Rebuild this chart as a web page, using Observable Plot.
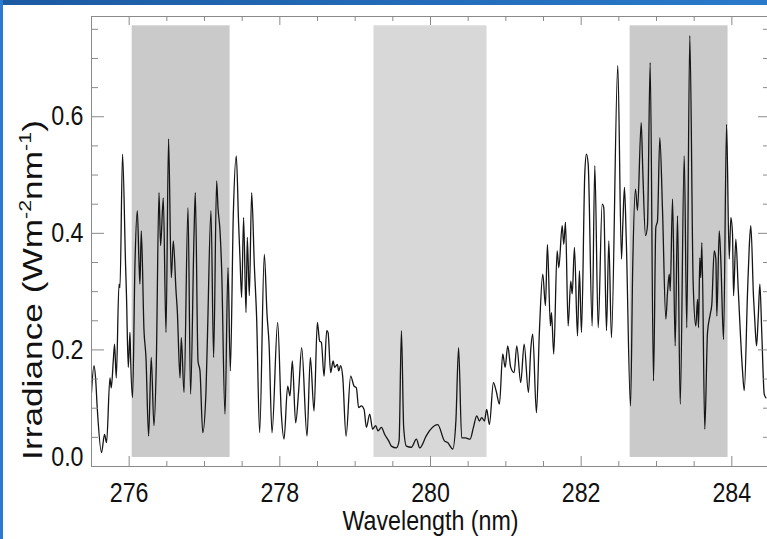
<!DOCTYPE html>
<html>
<head>
<meta charset="utf-8">
<script src="https://cdn.jsdelivr.net/npm/d3@7"></script>
<script src="https://cdn.jsdelivr.net/npm/@observablehq/plot@0.6"></script>
<style>
html, body { margin: 0; padding: 0; background: #fff; width: 767px; height: 539px; overflow: hidden; }
#chart { position: absolute; left: 0; top: 0; }
#topbar { position: absolute; left: 0; top: 0; width: 767px; height: 5px; background: linear-gradient(90deg, #1c5aa2, #2a7acb); }
#leftbar { position: absolute; left: 0; top: 0; width: 3px; height: 539px; background: #2a7bd0; }
</style>
</head>
<body>
<div id="chart"></div>
<div id="topbar"></div>
<div id="leftbar"></div>
<script>
// ---- data ----
const wavelength = [275.5, 275.533, 275.554, 275.576, 275.633, 275.673, 275.700, 275.745, 275.762, 275.789, 275.806, 275.829, 275.865, 275.878, 275.912, 275.952, 275.965, 275.988, 276.011, 276.019, 276.045, 276.077, 276.108, 276.130, 276.143, 276.161, 276.197, 276.223, 276.258, 276.293, 276.329, 276.360, 276.396, 276.417, 276.453, 276.489, 276.523, 276.559, 276.586, 276.622, 276.639, 276.675, 276.692, 276.728, 276.781, 276.815, 276.861, 276.878, 276.914, 276.940, 276.977, 277.020, 277.041, 277.086, 277.121, 277.161, 277.179, 277.206, 277.227, 277.272, 277.312, 277.343, 277.382, 277.422, 277.453, 277.471, 277.493, 277.519, 277.551, 277.568, 277.595, 277.626, 277.661, 277.692, 277.732, 277.794, 277.830, 277.857, 277.896, 277.971, 278.020, 278.056, 278.104, 278.135, 278.166, 278.210, 278.250, 278.290, 278.361, 278.405, 278.454, 278.498, 278.529, 278.551, 278.587, 278.622, 278.640, 278.675, 278.707, 278.728, 278.764, 278.781, 278.807, 278.834, 278.879, 278.940, 278.985, 279.016, 279.046, 279.082, 279.118, 279.149, 279.193, 279.232, 279.272, 279.304, 279.348, 279.392, 279.445, 279.481, 279.547, 279.583, 279.614, 279.644, 279.680, 279.746, 279.813, 279.857, 279.942, 279.985, 280.052, 280.096, 280.185, 280.228, 280.295, 280.337, 280.373, 280.414, 280.463, 280.526, 280.570, 280.614, 280.649, 280.680, 280.716, 280.746, 280.782, 280.835, 280.871, 280.915, 280.959, 280.991, 281.025, 281.065, 281.110, 281.145, 281.198, 281.243, 281.300, 281.331, 281.357, 281.406, 281.446, 281.490, 281.526, 281.552, 281.592, 281.606, 281.636, 281.681, 281.703, 281.748, 281.769, 281.792, 281.827, 281.862, 281.881, 281.911, 281.951, 281.977, 282.004, 282.048, 282.070, 282.093, 282.146, 282.181, 282.226, 282.279, 282.300, 282.336, 282.367, 282.402, 282.486, 282.535, 282.553, 282.575, 282.598, 282.655, 282.685, 282.721, 282.748, 282.797, 282.818, 282.854, 282.880, 282.916, 282.960, 282.991, 283.013, 283.044, 283.080, 283.124, 283.146, 283.169, 283.182, 283.213, 283.248, 283.279, 283.315, 283.368, 283.402, 283.442, 283.487, 283.522, 283.545, 283.558, 283.575, 283.588, 283.602, 283.641, 283.677, 283.713, 283.734, 283.766, 283.788, 283.801, 283.833, 283.854, 283.890, 283.930, 283.965, 283.987, 284.009, 284.023, 284.053, 284.085, 284.142, 284.165, 284.209, 284.231, 284.252, 284.288, 284.305, 284.328, 284.351, 284.372, 284.398, 284.430, 284.452];

const irradiance = [0.127, 0.173, 0.152, 0.101, 0.024, 0.055, 0.041, 0.152, 0.135, 0.181, 0.210, 0.152, 0.313, 0.307, 0.536, 0.347, 0.290, 0.170, 0.230, 0.187, 0.118, 0.347, 0.439, 0.353, 0.313, 0.404, 0.233, 0.187, 0.052, 0.187, 0.070, 0.175, 0.470, 0.379, 0.461, 0.230, 0.562, 0.324, 0.387, 0.301, 0.267, 0.152, 0.221, 0.127, 0.444, 0.124, 0.399, 0.470, 0.181, 0.164, 0.058, 0.130, 0.233, 0.439, 0.187, 0.490, 0.444, 0.404, 0.341, 0.090, 0.341, 0.164, 0.430, 0.533, 0.416, 0.358, 0.290, 0.427, 0.264, 0.393, 0.293, 0.470, 0.347, 0.255, 0.058, 0.364, 0.261, 0.210, 0.058, 0.247, 0.090, 0.047, 0.138, 0.121, 0.181, 0.075, 0.130, 0.204, 0.052, 0.187, 0.095, 0.247, 0.215, 0.213, 0.155, 0.233, 0.230, 0.161, 0.181, 0.170, 0.175, 0.164, 0.173, 0.155, 0.052, 0.155, 0.138, 0.135, 0.101, 0.104, 0.098, 0.067, 0.090, 0.064, 0.070, 0.061, 0.067, 0.055, 0.044, 0.035, 0.032, 0.044, 0.233, 0.067, 0.035, 0.033, 0.047, 0.032, 0.052, 0.061, 0.070, 0.072, 0.044, 0.041, 0.030, 0.078, 0.204, 0.049, 0.049, 0.047, 0.067, 0.087, 0.078, 0.084, 0.078, 0.098, 0.072, 0.144, 0.130, 0.107, 0.193, 0.170, 0.207, 0.170, 0.161, 0.207, 0.144, 0.210, 0.127, 0.201, 0.227, 0.092, 0.233, 0.330, 0.276, 0.381, 0.241, 0.264, 0.193, 0.370, 0.341, 0.413, 0.381, 0.419, 0.241, 0.318, 0.296, 0.376, 0.224, 0.336, 0.230, 0.502, 0.536, 0.519, 0.241, 0.516, 0.238, 0.450, 0.444, 0.233, 0.387, 0.221, 0.688, 0.356, 0.416, 0.479, 0.393, 0.104, 0.347, 0.476, 0.439, 0.590, 0.507, 0.396, 0.413, 0.693, 0.147, 0.410, 0.421, 0.564, 0.439, 0.253, 0.298, 0.330, 0.301, 0.459, 0.207, 0.430, 0.107, 0.533, 0.238, 0.739, 0.313, 0.241, 0.287, 0.238, 0.358, 0.324, 0.384, 0.064, 0.230, 0.261, 0.278, 0.370, 0.356, 0.258, 0.404, 0.353, 0.218, 0.587, 0.356, 0.427, 0.399, 0.293, 0.390, 0.304, 0.164, 0.130, 0.301, 0.376, 0.413, 0.290, 0.250, 0.207, 0.258, 0.313, 0.227, 0.124, 0.118];

// shaded wavelength windows
const bandStart = [276.04, 279.25, 282.65];
const bandEnd = [277.34, 280.75, 283.95];
const bandFill = ["#cacaca", "#d8d8d8", "#cacaca"];
const bandLow = 0.0155;
const bandHigh = 0.756;

// axes
const xDomain = [275.5, 284.5];
const yDomain = [0, 0.772];
const xMajor = [276, 278, 280, 282, 284];
const xMinor = [275.5, 276.5, 277, 277.5, 278.5, 279, 279.5, 280.5, 281, 281.5, 282.5, 283, 283.5, 284.5];
const yMajor = [0, 0.2, 0.4, 0.6];
const yLabeled = [0.2, 0.4, 0.6];
const yMinor = [0.05, 0.1, 0.15, 0.25, 0.3, 0.35, 0.45, 0.5, 0.55, 0.65, 0.7, 0.75];
const xTitle = "Wavelength (nm)";

// ---- chart ----
const spectrum = wavelength.map((w, i) => ({w, v: irradiance[i]})).filter(d => d.v != null);
const bands = bandStart.map((s, i) => ({x1: s, x2: bandEnd[i], fill: bandFill[i]}));

const W = 767, H = 539, mL = 91, mR = -2, mT = 16, mB = 73;
const innerW = W - mL - mR, innerH = H - mT - mB;
const grey = "#8a8a8a";
const fs = 27;

const chart = Plot.plot({
  width: W, height: H,
  marginLeft: mL, marginRight: mR, marginTop: mT, marginBottom: mB,
  style: {fontFamily: "'Liberation Sans', Arial, Helvetica, sans-serif", background: "#fff", color: "#111", overflow: "visible"},
  x: {domain: xDomain, axis: null},
  y: {domain: yDomain, axis: null},
  color: {type: "identity"},
  marks: [
    Plot.rect(bands, {x1: "x1", x2: "x2", y1: bandLow, y2: bandHigh, fill: "fill"}),
    Plot.line(spectrum, {x: "w", y: "v", stroke: "#151515", strokeWidth: 1.3, curve: "monotone-x", clip: true}),
    Plot.frame({stroke: grey, strokeWidth: 1}),
    // bottom ticks (inward)
    Plot.ruleX(xMajor, {stroke: grey, insetTop: innerH - 10}),
    Plot.ruleX(xMinor, {stroke: grey, insetTop: innerH - 5}),
    // top ticks (inward)
    Plot.ruleX(xMajor, {stroke: grey, insetBottom: innerH - 9}),
    Plot.ruleX(xMinor, {stroke: grey, insetBottom: innerH - 5}),
    // left ticks
    Plot.ruleY(yMajor, {stroke: grey, insetRight: innerW - 13}),
    Plot.ruleY(yMinor, {stroke: grey, insetRight: innerW - 7}),
    // right ticks
    Plot.ruleY(yMajor, {stroke: grey, insetLeft: innerW - 11}),
    Plot.ruleY(yMinor, {stroke: grey, insetLeft: innerW - 6}),
    // tick labels
    Plot.axisX(xMajor, {anchor: "bottom", tickSize: 0, tickPadding: 16, fontSize: fs, label: null, tickFormat: d => String(d)}),
    Plot.axisY(yLabeled, {anchor: "left", tickSize: 0, tickPadding: 8, fontSize: fs, label: null, tickFormat: d3.format(".1f")}),
    Plot.axisY([0], {anchor: "left", tickSize: 0, tickPadding: 8, fontSize: fs, dy: -9, label: null, tickFormat: d3.format(".1f")}),
    Plot.text([xTitle], {frameAnchor: "bottom", dy: 63, text: d => d, fontSize: fs, fill: "#111"})
  ]
});

document.getElementById("chart").appendChild(chart);

// narrow the glyphs horizontally (the reference text is taller than wide)
chart.querySelectorAll("text").forEach(t => {
  const L = t.getComputedTextLength();
  if (L > 0) {
    t.setAttribute("textLength", (L * 0.86).toFixed(2));
    t.setAttribute("lengthAdjust", "spacingAndGlyphs");
  }
});

// y-axis title with superscripts
const yt = d3.select(chart).append("text")
  .attr("transform", "translate(42,290) scale(1,1.26) rotate(-90)")
  .attr("text-anchor", "middle")
  .attr("font-family", "'Liberation Sans', Arial, Helvetica, sans-serif")
  .attr("font-size", 28)
  .attr("fill", "#111");
yt.append("tspan").text("Irradiance (Wm");
yt.append("tspan").attr("font-size", 17).attr("dy", -11).text("-2");
yt.append("tspan").attr("dy", 11).text("nm");
yt.append("tspan").attr("font-size", 17).attr("dy", -11).text("-1");
yt.append("tspan").attr("dy", 11).text(")");
</script>
</body>
</html>
